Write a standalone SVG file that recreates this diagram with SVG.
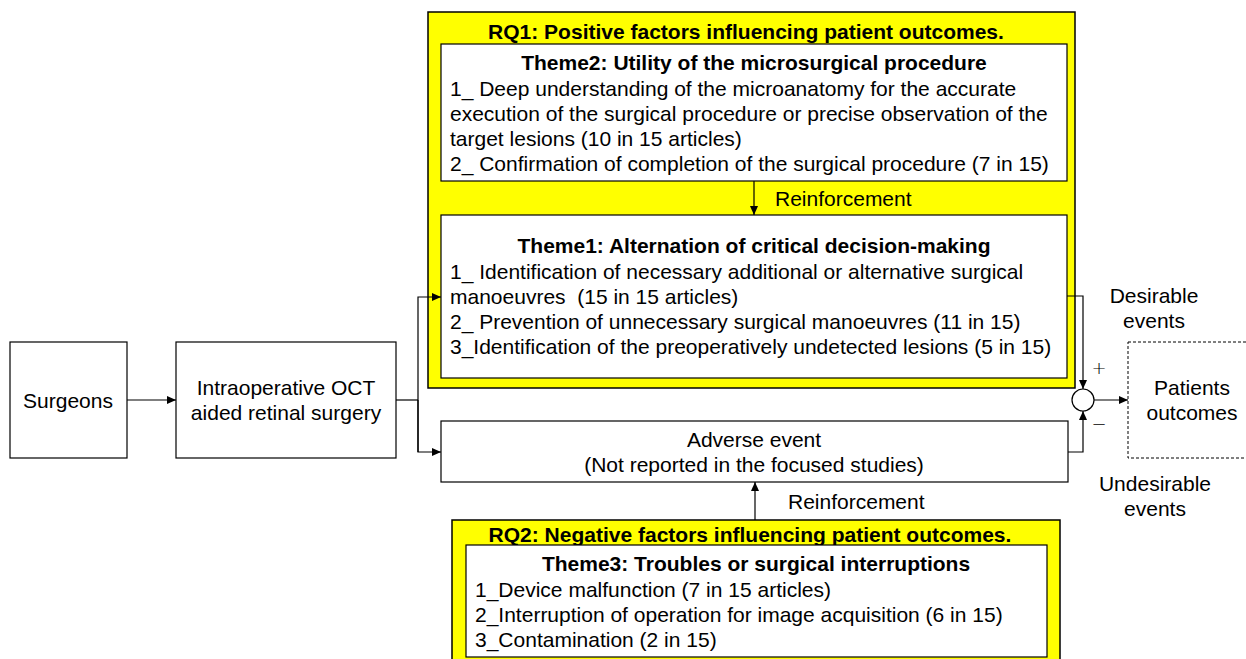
<svg xmlns="http://www.w3.org/2000/svg" width="1246" height="659" viewBox="0 0 1246 659">
<style>
text{font-family:"Liberation Sans",Arial,sans-serif;font-size:21px;fill:#000}
.b{font-weight:bold}
.c{text-anchor:middle}
.pre{white-space:pre}
.box{fill:#fff;stroke:#000;stroke-width:1.2}
.yel{fill:#ffff00;stroke:#000;stroke-width:1.5}
.ln{fill:none;stroke:#000;stroke-width:1.2}
.pm{font-family:"DejaVu Sans",sans-serif;font-size:18px;font-weight:200}
</style>
<defs>
<marker id="ar" markerWidth="10" markerHeight="10" refX="9" refY="5" orient="auto" markerUnits="userSpaceOnUse">
<path d="M0,1 L9,5 L0,9 Z" fill="#000"/>
</marker>
</defs>
<g id="rq1">
<rect class="yel" x="428" y="12" width="647" height="376"/>
<text class="b c" x="746" y="39">RQ1: Positive factors influencing patient outcomes.</text>
</g>
<g id="theme2">
<rect class="box" x="441" y="44" width="626" height="137"/>
<text class="b c" x="754" y="70">Theme2: Utility of the microsurgical procedure</text>
<text x="450" y="96">1_ Deep understanding of the microanatomy for the accurate</text>
<text x="450" y="121">execution of the surgical procedure or precise observation of the</text>
<text x="450" y="146">target lesions (10 in 15 articles)</text>
<text x="450" y="171">2_ Confirmation of completion of the surgical procedure (7 in 15)</text>
</g>
<g id="theme1">
<rect class="box" x="441" y="215" width="626" height="163"/>
<text class="b c" x="754" y="253">Theme1: Alternation of critical decision-making</text>
<text x="450" y="279">1_ Identification of necessary additional or alternative surgical</text>
<text class="pre" x="450" y="304">manoeuvres  (15 in 15 articles)</text>
<text x="450" y="329">2_ Prevention of unnecessary surgical manoeuvres (11 in 15)</text>
<text x="450" y="354">3_Identification of the preoperatively undetected lesions (5 in 15)</text>
</g>
<g id="surgeons">
<rect class="box" x="10" y="342" width="117" height="116"/>
<text class="c" x="68" y="408">Surgeons</text>
</g>
<g id="intraop">
<rect class="box" x="176" y="342" width="220" height="116"/>
<text class="c" x="286" y="395">Intraoperative OCT</text>
<text class="c" x="286" y="420">aided retinal surgery</text>
</g>
<g id="adverse">
<rect class="box" x="441" y="421" width="627" height="61"/>
<text class="c" x="754" y="447">Adverse event</text>
<text class="c" x="754" y="472">(Not reported in the focused studies)</text>
</g>
<g id="rq2">
<rect class="yel" x="452" y="520" width="608" height="150"/>
<text class="b c" x="750" y="542">RQ2: Negative factors influencing patient outcomes.</text>
</g>
<g id="theme3">
<rect class="box" x="466" y="545" width="581" height="112"/>
<text class="b c" x="756" y="571">Theme3: Troubles or surgical interruptions</text>
<text x="475" y="597">1_Device malfunction (7 in 15 articles)</text>
<text x="475" y="622">2_Interruption of operation for image acquisition (6 in 15)</text>
<text x="475" y="647">3_Contamination (2 in 15)</text>
</g>
<g id="sum">
<circle cx="1083" cy="400" r="11" fill="#fff" stroke="#000" stroke-width="1.2"/>
<text class="c pm" x="1099" y="374">+</text>
<text class="c pm" x="1099" y="430">−</text>
</g>
<g id="patients">
<rect x="1128" y="342" width="130" height="116" fill="#fff" stroke="#000" stroke-width="1" stroke-dasharray="3,2"/>
<text class="c" x="1192" y="395">Patients</text>
<text class="c" x="1192" y="420">outcomes</text>
</g>
<g id="labels">
<text class="c" x="1154" y="303">Desirable</text>
<text class="c" x="1154" y="328">events</text>
<text class="c" x="1155" y="491">Undesirable</text>
<text class="c" x="1155" y="516">events</text>
</g>
<g id="connectors">
<line class="ln" x1="127" y1="400" x2="176" y2="400" marker-end="url(#ar)"/>
<polyline class="ln" points="396,400 418,400"/>
<polyline class="ln" points="418,452 418,297 441,297" marker-end="url(#ar)"/>
<polyline class="ln" points="418,400 418,452 441,452" marker-end="url(#ar)"/>
<line class="ln" x1="754" y1="181" x2="754" y2="215" marker-end="url(#ar)"/>
<text x="775" y="206">Reinforcement</text>
<line class="ln" x1="755" y1="520" x2="755" y2="482" marker-end="url(#ar)"/>
<text x="788" y="509">Reinforcement</text>
<polyline class="ln" points="1067,296 1083,296 1083,389" marker-end="url(#ar)"/>
<polyline class="ln" points="1068,452 1083,452 1083,411" marker-end="url(#ar)"/>
<line class="ln" x1="1094" y1="400" x2="1128" y2="400" marker-end="url(#ar)"/>
</g>
</svg>
